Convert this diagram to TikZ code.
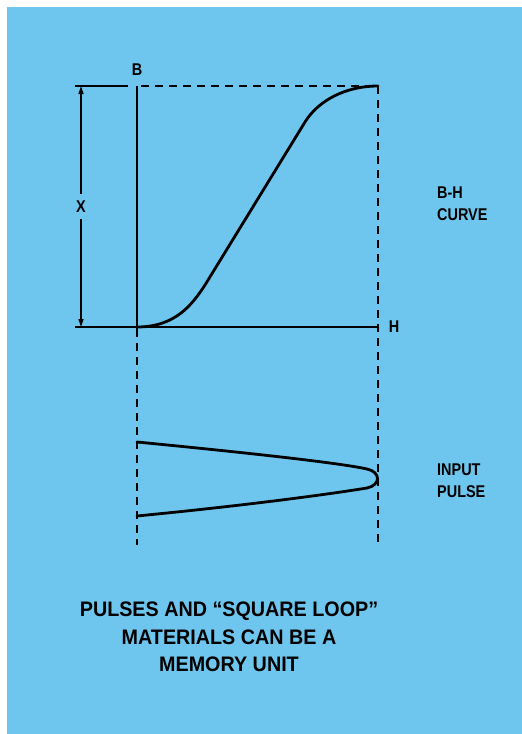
\documentclass[tikz,border=0pt]{standalone}
\usepackage{fontspec}
\setmainfont[FakeStretch=0.85]{Liberation Sans}
\newfontfamily\capfont[FakeStretch=0.94]{Liberation Sans}
\usepackage{tikz}
\usetikzlibrary{arrows.meta,positioning}
\definecolor{plate}{RGB}{110,198,238}

\begin{document}
\begin{tikzpicture}[x=1pt, y=-1pt, >={Triangle[length=8pt,width=5pt]},
		axis/.style={line width=1.2pt},
		guide/.style={line width=1.2pt, dash pattern=on 8pt off 6pt},
		trace/.style={line width=2.8pt, line cap=round, line join=round},
		lbl/.style={font=\bfseries\fontsize{17}{22}\selectfont, inner sep=1pt},
		title/.style={font=\capfont\bfseries\fontsize{21}{27.5}\selectfont, align=center}]
		\useasboundingbox (0,0) rectangle (522,734);
		\fill[plate] (7,7) rectangle (522,734);
		
		% B-H loop frame
		\coordinate (O) at (137,327);
		\coordinate (Btop) at (137,86);
		\coordinate (Hend) at (378,327);
		\coordinate (Sat) at (378,86);
		\coordinate (Xtop) at (81,86);
		\coordinate (Xbot) at (81,327);
		\draw[axis] (75,86) -- (128,86);
		\draw[axis] (75,327) -- (Hend);
		\draw[axis] (Btop) -- (137,337);
		\draw[guide] (141,86) -- (Sat);
		\draw[guide] (Sat) -- (378,545);
		\draw[guide] (137,343) -- (137,545);
		\draw[axis, <->] (Xtop) -- node[lbl, fill=plate, inner ysep=7pt] (X) {X} (Xbot);
		
		\node[lbl] (B) at (137,70) {B};
		\node[lbl] (H) at (394,327) {H};
		
		% curve and pulse
		\draw[trace] (O) .. controls (175,327) and (192,305) .. (205,285)
			-- (305,122) .. controls (318,101) and (345,86) .. (Sat);
		\draw[trace] (137,442) .. controls (250,453) and (340,463) .. (367,469)
			.. controls (381,472) and (381,485) .. (367,488)
			.. controls (330,494) and (250,505) .. (137,516);
		
		\node[lbl, anchor=west, align=left] (curve) at (436,204) {B-H\\CURVE};
		\node[lbl, anchor=west, align=left] (pulse) at (436,481) {INPUT\\PULSE};
		\node[title] (caption) at (229,637) {PULSES AND “SQUARE LOOP”\\MATERIALS CAN BE A\\MEMORY UNIT};
	\end{tikzpicture}
\end{document}
